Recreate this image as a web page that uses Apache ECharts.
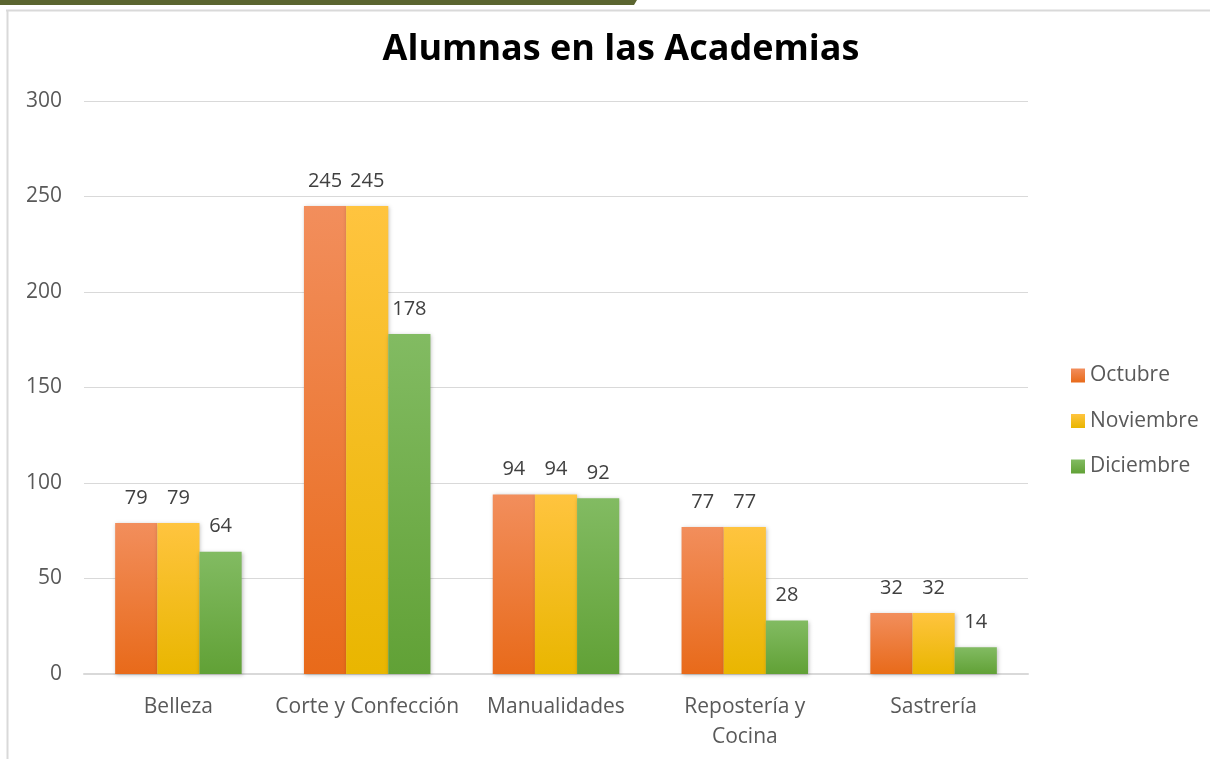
<!DOCTYPE html>
<html>
<head>
<meta charset="utf-8">
<script src="https://cdn.jsdelivr.net/npm/echarts@6/dist/echarts.min.js"></script>
<style>
  html, body { margin: 0; padding: 0; background: #fff; }
  #chart { width: 1210px; height: 759px; }
</style>
</head>
<body>
<div id="chart"></div>
<script>
const categories = ['Belleza', 'Corte y Confección', 'Manualidades', 'Repostería y Cocina', 'Sastrería']
const octubre = [79, 245, 94, 77, 32]
const noviembre = [79, 245, 94, 77, 32]
const diciembre = [64, 178, 92, 28, 14]
const yTicks = [0, 50, 100, 150, 200, 250, 300]

const grad = (top, bottom) => new echarts.graphic.LinearGradient(0, 0, 0, 1, [
  { offset: 0, color: top },
  { offset: 1, color: bottom }
])

const font = '"Open Sans", "Noto Sans", sans-serif'

const mkSeries = (name, data, top, bottom) => ({
  name,
  type: 'bar',
  data,
  barGap: 0,
  barCategoryGap: '33%',
  itemStyle: {
    color: grad(top, bottom),
    shadowColor: 'rgba(0,0,0,0.25)',
    shadowBlur: 4,
    shadowOffsetX: 1,
    shadowOffsetY: 1
  },
  label: {
    show: true,
    position: 'top',
    distance: 15,
    fontFamily: font,
    fontSize: 20,
    color: '#404040'
  }
})

const chart = echarts.init(document.getElementById('chart'), null, { renderer: 'canvas' })
chart.setOption({
  backgroundColor: '#fff',
  animation: false,
  title: {
    text: 'Alumnas en las Academias',
    left: 616,
    top: 27,
    textAlign: 'center',
    textStyle: { fontFamily: font, fontSize: 36, fontWeight: 'bold', color: '#000' }
  },
  graphic: [
    { type: 'polygon', shape: { points: [[0, 0], [637, 0], [634, 5], [0, 5]] }, style: { fill: '#5b6530' } },
    { type: 'line', shape: { x1: 6, y1: 10.5, x2: 1210, y2: 10.5 }, style: { stroke: '#d9d9d9', lineWidth: 2 } },
    { type: 'line', shape: { x1: 7.5, y1: 10, x2: 7.5, y2: 759 }, style: { stroke: '#d9d9d9', lineWidth: 2 } }
  ],
  legend: {
    orient: 'vertical',
    left: 1066,
    top: 360,
    itemWidth: 14,
    itemHeight: 14,
    itemGap: 24.5,
    icon: 'rect',
    textStyle: { fontFamily: font, fontSize: 21, color: '#595959' },
    data: ['Octubre', 'Noviembre', 'Diciembre']
  },
  grid: { left: 84, right: 182, top: 101, bottom: 85 },
  xAxis: {
    type: 'category',
    data: categories,
    axisTick: { show: false },
    axisLine: { lineStyle: { color: '#d9d9d9', width: 2 } },
    axisLabel: {
      margin: 18,
      fontFamily: font,
      fontSize: 21,
      color: '#595959',
      lineHeight: 30,
      interval: 0,
      formatter: v => v.replace('Repostería y ', 'Repostería y\n')
    }
  },
  yAxis: {
    type: 'value',
    min: yTicks[0],
    max: yTicks[yTicks.length - 1],
    interval: 50,
    axisLabel: { margin: 22, fontFamily: font, fontSize: 21, color: '#595959' },
    splitLine: { lineStyle: { color: '#d9d9d9', width: 1 } },
    axisLine: { show: false },
    axisTick: { show: false }
  },
  series: [
    mkSeries('Octubre', octubre, '#f28e5c', '#e86a1a'),
    mkSeries('Noviembre', noviembre, '#ffc43f', '#e9b600'),
    mkSeries('Diciembre', diciembre, '#82bb62', '#61a136')
  ]
})
</script>
</body>
</html>
